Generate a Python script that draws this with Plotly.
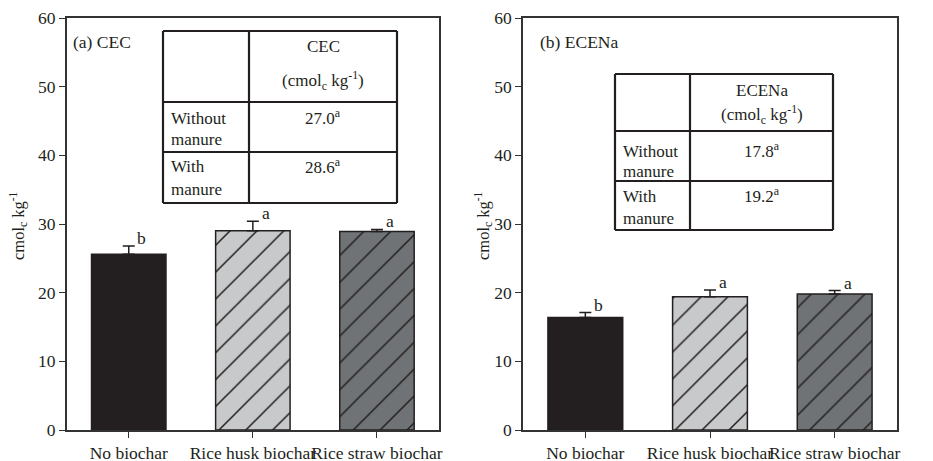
import plotly.graph_objects as go

categories = ["No biochar", "Rice husk biochar", "Rice straw biochar"]
cec_values = [25.6, 29.0, 28.9]
cec_errors = [1.2, 1.4, 0.3]
cec_letters = ["b", "a", "a"]
ecena_values = [16.4, 19.4, 19.8]
ecena_errors = [0.7, 1.0, 0.5]
ecena_letters = ["b", "a", "a"]
bar_colors = ["#231f20", "#c8c9cb", "#707376"]
bar_patterns = ["", "/", "/"]

cec_table = [["Without<br>manure", "27.0<sup>a</sup>"], ["With<br>manure", "28.6<sup>a</sup>"]]
ecena_table = [["Without<br>manure", "17.8<sup>a</sup>"], ["With<br>manure", "19.2<sup>a</sup>"]]

OFF = 8  # page body margin
W, H = 933 - OFF, 461 - OFF
TOP_PX, BOT_PX = 18, 430  # plot area in reference pixels
T = TOP_PX - OFF
B = H - (BOT_PX - OFF)
FONT = "Liberation Serif"
INK = "#231f20"


def px(x):
    return (x - OFF) / W


def py(y):
    return (BOT_PX - y) / (BOT_PX - TOP_PX)


fig = go.Figure()

panels = [
    dict(xa="x", ya="y", vals=cec_values, errs=cec_errors, letters=cec_letters),
    dict(xa="x2", ya="y2", vals=ecena_values, errs=ecena_errors, letters=ecena_letters),
]

for p in panels:
    for i in range(len(categories)):
        pat = dict(shape=bar_patterns[i], fgcolor=INK, bgcolor=bar_colors[i],
                   fgopacity=1, size=19, solidity=0.08) if bar_patterns[i] else None
        marker = dict(color=bar_colors[i], line=dict(color=INK, width=1.5))
        if pat:
            marker["pattern"] = pat
        fig.add_trace(go.Bar(
            x=[i], y=[p["vals"][i]], xaxis=p["xa"], yaxis=p["ya"],
            width=0.6, marker=marker,
            error_y=dict(type="data", symmetric=False, array=[p["errs"][i]], arrayminus=[0],
                         color=INK, thickness=1.5, width=6),
            showlegend=False, hoverinfo="skip",
        ))

axis_common = dict(
    showline=True, linecolor="#333333", linewidth=1.5, mirror=True, automargin=False,
    showgrid=False, zeroline=False, ticks="outside", ticklen=6, tickwidth=1.2,
    tickcolor="#333333", tickangle=0, tickfont=dict(family=FONT, size=17.5, color=INK),
)

fig.update_layout(
    width=W, height=H,
    margin=dict(l=0, r=0, t=T, b=B, autoexpand=False),
    paper_bgcolor="white", plot_bgcolor="white",
    barmode="overlay",
    font=dict(family=FONT, size=17, color=INK),
    xaxis=dict(domain=[px(66.7), px(439)], range=[-0.5, 2.5], tickvals=[0, 1, 2],
               ticktext=categories, **axis_common),
    xaxis2=dict(domain=[px(523), px(897)], range=[-0.5, 2.5], tickvals=[0, 1, 2],
                ticktext=categories, anchor="y2", **axis_common),
    yaxis=dict(domain=[0, 1], range=[0, 60], tickvals=[0, 10, 20, 30, 40, 50, 60],
               anchor="x", **axis_common),
    yaxis2=dict(domain=[0, 1], range=[0, 60], tickvals=[0, 10, 20, 30, 40, 50, 60],
                anchor="x2", **axis_common),
)

annotations = []


def txt(x, y, text, xanchor="center", size=17, angle=0):
    annotations.append(dict(x=px(x), y=py(y), xref="paper", yref="paper", text=text,
                            xanchor=xanchor, yanchor="middle", showarrow=False, textangle=angle,
                            font=dict(family=FONT, size=size, color=INK)))


# significance letters
for p, xref, yref in [(panels[0], "x", "y"), (panels[1], "x2", "y2")]:
    for i, (v, e, l) in enumerate(zip(p["vals"], p["errs"], p["letters"])):
        annotations.append(dict(x=i, y=v + e, xref=xref, yref=yref, text=l, showarrow=False,
                                xshift=13, yshift=8, xanchor="center", yanchor="middle",
                                font=dict(family=FONT, size=17.5, color=INK)))

# y titles
txt(18, 226, "cmol<sub>c</sub> kg<sup>-1</sup>", size=16.5, angle=-90)
txt(483, 226, "cmol<sub>c</sub> kg<sup>-1</sup>", size=16.5, angle=-90)

# panel labels
txt(71, 42, "(a) CEC", xanchor="left", size=17.5)
txt(538, 42, "(b) ECENa", xanchor="left", size=17.5)

shapes = []


def draw_table(x0, xm, x1, rows_y, head1, head2, head_y, body, body_y):
    ytop, yh, yr, ybot = rows_y
    lw = 2.2
    for (a, b, c, d) in [(x0, ytop, x1, ytop), (x0, yh, x1, yh), (x0, yr, x1, yr), (x0, ybot, x1, ybot),
                         (x0, ytop, x0, ybot), (xm, ytop, xm, ybot), (x1, ytop, x1, ybot)]:
        shapes.append(dict(type="line", xref="paper", yref="paper", x0=px(a), y0=py(b), x1=px(c), y1=py(d),
                           line=dict(color=INK, width=lw)))
    cx = (xm + x1) / 2
    txt(cx, head_y[0], head1)
    txt(cx, head_y[1], head2)
    for (label, val), (y1, y2) in zip(body, body_y):
        l1, l2 = label.split("<br>")
        txt(x0 + 6, y1, l1, xanchor="left")
        txt(x0 + 6, y2, l2, xanchor="left")
        txt(cx, y1 - 1, val)


draw_table(163, 249, 397, (31, 102, 152, 203), "CEC", "(cmol<sub>c</sub> kg<sup>-1</sup>)", (47, 80),
           cec_table, [(118, 139), (167, 189)])
draw_table(615, 690, 833, (74, 131, 181, 230), "ECENa", "(cmol<sub>c</sub> kg<sup>-1</sup>)", (90, 114),
           ecena_table, [(151, 172), (196, 218)])

fig.update_layout(annotations=annotations, shapes=shapes)
fig.write_html("out.html")
